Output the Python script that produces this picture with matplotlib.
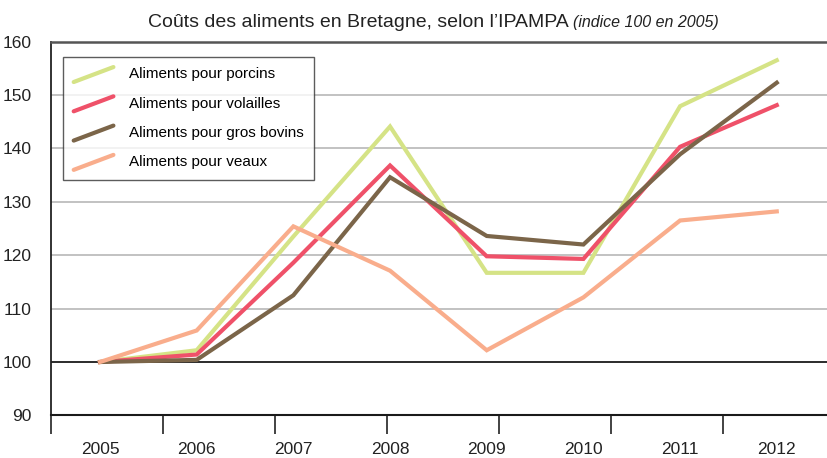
import numpy as np
import matplotlib
matplotlib.use("Agg")
import matplotlib.pyplot as plt
from matplotlib.lines import Line2D
from matplotlib.legend_handler import HandlerLine2D

plt.rcParams['font.family'] = ['Liberation Sans Narrow', 'Liberation Sans', 'DejaVu Sans']

# data (indice 100 en 2005)
years = ["2005", "2006", "2007", "2008", "2009", "2010", "2011", "2012"]
porcins = [100, 102.2, 123.5, 144.1, 116.7, 116.7, 147.9, 156.5]
volailles = [100, 101.4, 118.6, 136.8, 119.8, 119.3, 140.3, 148.1]
bovins = [100, 100.4, 112.5, 134.6, 123.6, 122.0, 138.9, 152.3]
veaux = [100, 105.9, 125.4, 117.1, 102.2, 112.1, 126.5, 128.2]
labels = ["Aliments pour porcins", "Aliments pour volailles",
          "Aliments pour gros bovins", "Aliments pour veaux"]
colors = ["#d5e386", "#ef5169", "#7b6549", "#f9ad8c"]


class DiagHandler(HandlerLine2D):
    # slanted legend keys like the original
    def create_artists(self, legend, orig_handle, xdescent, ydescent,
                       width, height, fontsize, trans):
        ln = Line2D([0, width], [-height * 0.35, height * 1.05],
                    color=orig_handle.get_color(), lw=orig_handle.get_linewidth(),
                    solid_capstyle='round')
        ln.set_transform(trans)
        return [ln]


fig = plt.figure(figsize=(8.28, 4.58), dpi=100)
ax = fig.add_axes([51 / 828, 1 - 415.4 / 458, 1 - 51 / 828, (415.4 - 41.6) / 458])

x = np.arange(len(years))
handles = []
for vals, lab, c in zip([porcins, volailles, bovins, veaux], labels, colors):
    h, = ax.plot(x, vals, color=c, lw=3, label=lab, solid_joinstyle='miter')
    handles.append(h)

ax.set_ylim(90, 160)
ax.set_xlim(-0.507, 7.53)
ax.set_yticks(np.arange(90, 161, 10))
for yv in range(110, 160, 10):
    ax.axhline(yv, color="#bdbdbd", lw=1.3, zorder=0)
ax.axhline(100, color="#1a1a1a", lw=1.3, zorder=0.5)

ax.set_xticks(x)
ax.set_xticklabels(years)
ax.set_xticks(np.arange(7) * 1.158 - 0.507, minor=True)
ax.tick_params(axis='x', which='major', length=0, pad=19, labelsize=12.5, colors="#222222")
ax.tick_params(axis='x', which='minor', length=14, width=1.2, color="#222222", direction='out')
ax.tick_params(axis='y', length=0, pad=14, labelsize=12.5, colors="#222222")

ax.spines['right'].set_visible(False)
ax.spines['top'].set_color("#555555")
ax.spines['top'].set_linewidth(1.8)
ax.spines['bottom'].set_color("#1a1a1a")
ax.spines['bottom'].set_linewidth(1.5)
ax.spines['left'].set_color("#222222")
ax.spines['left'].set_linewidth(1.3)

leg = ax.legend(handles=handles, handler_map={Line2D: DiagHandler()},
                loc='upper left', bbox_to_anchor=(12 / 777, 1 - 15 / 374),
                fontsize=11, frameon=True, fancybox=False, edgecolor="#333333",
                handlelength=2.6, handletextpad=1.0, labelspacing=1.0,
                borderpad=0.7, borderaxespad=0)
leg.get_frame().set_linewidth(1.0)

fig.text(0.692, 0.95, "Coûts des aliments en Bretagne, selon l’IPAMPA ",
         ha='right', va='center', fontsize=14, color="#222222")
fig.text(0.692, 0.95, "(indice 100 en 2005)", ha='left', va='center',
         fontsize=11.5, style='italic', color="#222222")

fig.savefig("out.png", dpi=100)
